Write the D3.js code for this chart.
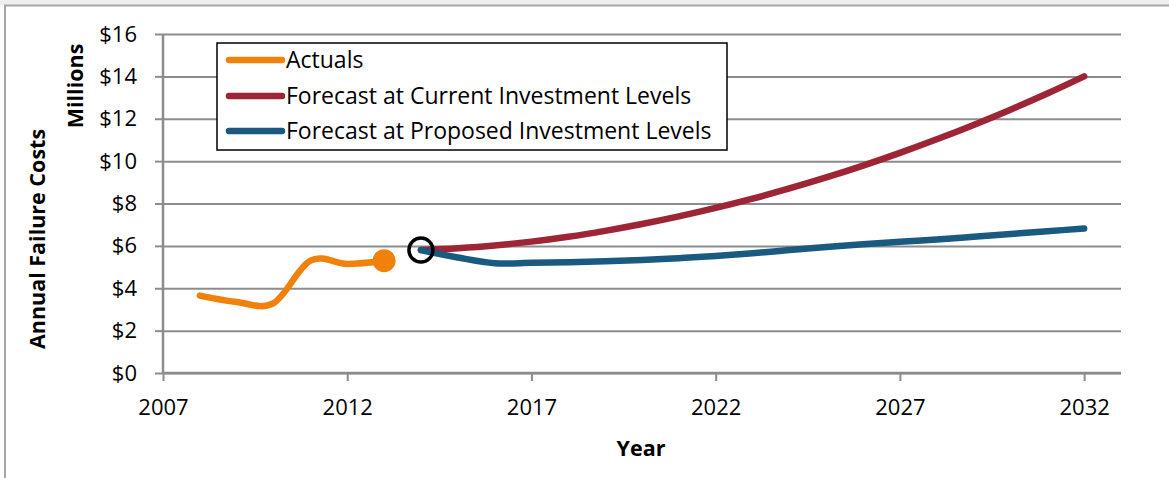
<!DOCTYPE html>
<html>
<head>
<meta charset="utf-8">
<script src="https://cdn.jsdelivr.net/npm/d3@7"></script>
<style>
  html, body { margin: 0; padding: 0; background: #ffffff; }
  svg { display: block; }
  text { font-family: "Open Sans", Lato, "DejaVu Sans", sans-serif; fill: #000; }
</style>
</head>
<body>
<svg id="chart" width="1169" height="478"></svg>
<script>
// Annual failure costs, millions of dollars
const actualYears = [2008, 2009, 2010, 2011, 2012, 2013];
const actualValues = [3.65, 3.35, 3.3, 5.3, 5.15, 5.3];

const forecastYears = [2014, 2015, 2016, 2017, 2018, 2019, 2020, 2021, 2022, 2023,
                       2024, 2025, 2026, 2027, 2028, 2029, 2030, 2031, 2032];
const currentValues = [5.8, 5.89, 6.02, 6.2, 6.43, 6.71, 7.03, 7.39, 7.79, 8.23,
                       8.71, 9.23, 9.79, 10.39, 11.03, 11.71, 12.43, 13.19, 14.0];
const proposedValues = [5.8, 5.45, 5.18, 5.2, 5.23, 5.27, 5.33, 5.42, 5.52, 5.65,
                        5.8, 5.95, 6.08, 6.2, 6.3, 6.43, 6.56, 6.69, 6.82];

const xTicks = [2007, 2012, 2017, 2022, 2027, 2032];
const yTicks = [0, 2, 4, 6, 8, 10, 12, 14, 16];

const seriesNames = ["Actuals", "Forecast at Current Investment Levels", "Forecast at Proposed Investment Levels"];
const seriesColors = ["#f0820c", "#9e2535", "#1b5a80"];

const svg = d3.select("#chart");
const W = 1169, H = 478;

// outer frame
svg.append("rect").attr("x", 0).attr("y", 0).attr("width", W).attr("height", 5).attr("fill", "#efefef");
svg.append("line").attr("x1", 4).attr("x2", W).attr("y1", 5.5).attr("y2", 5.5)
  .attr("stroke", "#a6a6a6").attr("stroke-width", 2);
svg.append("line").attr("x1", 5).attr("x2", 5).attr("y1", 5).attr("y2", H)
  .attr("stroke", "#a6a6a6").attr("stroke-width", 2);

const x = d3.scaleLinear().domain([2007, 2033]).range([163, 1121]);
const y = d3.scaleLinear().domain([0, 16]).range([373, 34]);

const gridColor = "#8c8c8c";

// horizontal gridlines with left tick marks
const yAxis = svg.append("g").attr("transform", "translate(163,0)")
  .call(d3.axisLeft(y).tickValues(yTicks).tickSize(8).tickPadding(18)
    .tickFormat(d => "$" + d));
yAxis.select(".domain").remove();
yAxis.selectAll(".tick line").attr("stroke", gridColor).attr("stroke-width", 2);
yAxis.selectAll(".tick text").attr("font-size", 22).attr("font-family", null);
yAxis.selectAll(".tick").append("line")
  .attr("x1", 0).attr("x2", x(2033) - 163)
  .attr("stroke", gridColor).attr("stroke-width", 2);

// x axis
const xAxis = svg.append("g").attr("transform", "translate(0,373)")
  .call(d3.axisBottom(x).tickValues(xTicks).tickSize(8).tickPadding(18)
    .tickFormat(d3.format("d")));
xAxis.select(".domain").attr("stroke", gridColor).attr("stroke-width", 2.5)
  .attr("d", `M${x(2007)},0H${x(2033)}`);
xAxis.selectAll(".tick line").attr("stroke", gridColor).attr("stroke-width", 2);
xAxis.selectAll(".tick text").attr("font-size", 22).attr("font-family", null);

// vertical axis line
svg.append("line").attr("x1", 163).attr("x2", 163).attr("y1", y(16)).attr("y2", 373)
  .attr("stroke", gridColor).attr("stroke-width", 2.5);

// axis titles
svg.append("text").attr("x", 641).attr("y", 456).attr("text-anchor", "middle")
  .attr("font-size", 21.5).attr("font-weight", "bold").text("Year");
svg.append("text").attr("transform", "translate(45,239) rotate(-90)").attr("text-anchor", "middle")
  .attr("font-size", 21.5).attr("font-weight", "bold").text("Annual Failure Costs");
svg.append("text").attr("transform", "translate(83,86) rotate(-90)").attr("text-anchor", "middle")
  .attr("font-size", 21.5).attr("font-weight", "bold").text("Millions");

// series lines
const line = d3.line().x(d => x(d[0])).y(d => y(d[1])).curve(d3.curveCardinal.tension(0));
const series = [
  d3.zip(actualYears, actualValues),
  d3.zip(forecastYears, currentValues),
  d3.zip(forecastYears, proposedValues)
];
series.forEach((pts, i) => {
  svg.append("path").datum(pts).attr("d", line)
    .attr("fill", "none").attr("stroke", seriesColors[i])
    .attr("stroke-width", 6.5).attr("stroke-linecap", "round").attr("stroke-linejoin", "round");
});

// latest actual marker
const lastIdx = actualYears.length - 1;
svg.append("circle").attr("cx", x(actualYears[lastIdx])).attr("cy", y(actualValues[lastIdx]))
  .attr("r", 11.5).attr("fill", seriesColors[0]);

// forecast start marker
svg.append("circle").attr("cx", x(forecastYears[0])).attr("cy", y(currentValues[0]))
  .attr("r", 12).attr("fill", "none").attr("stroke", "#000").attr("stroke-width", 3.5);

// legend
const lg = svg.append("g");
lg.append("rect").attr("x", 217).attr("y", 43).attr("width", 510).attr("height", 107)
  .attr("fill", "#fff").attr("stroke", "#000").attr("stroke-width", 1.5);
const rowsY = [60, 96, 131];
seriesNames.forEach((name, i) => {
  lg.append("line").attr("x1", 229).attr("x2", 282).attr("y1", rowsY[i]).attr("y2", rowsY[i])
    .attr("stroke", seriesColors[i]).attr("stroke-width", 6.5).attr("stroke-linecap", "round");
  lg.append("text").attr("x", 286).attr("y", rowsY[i]).attr("dy", "0.35em")
    .attr("font-size", 23).text(name);
});
</script>
</body>
</html>
